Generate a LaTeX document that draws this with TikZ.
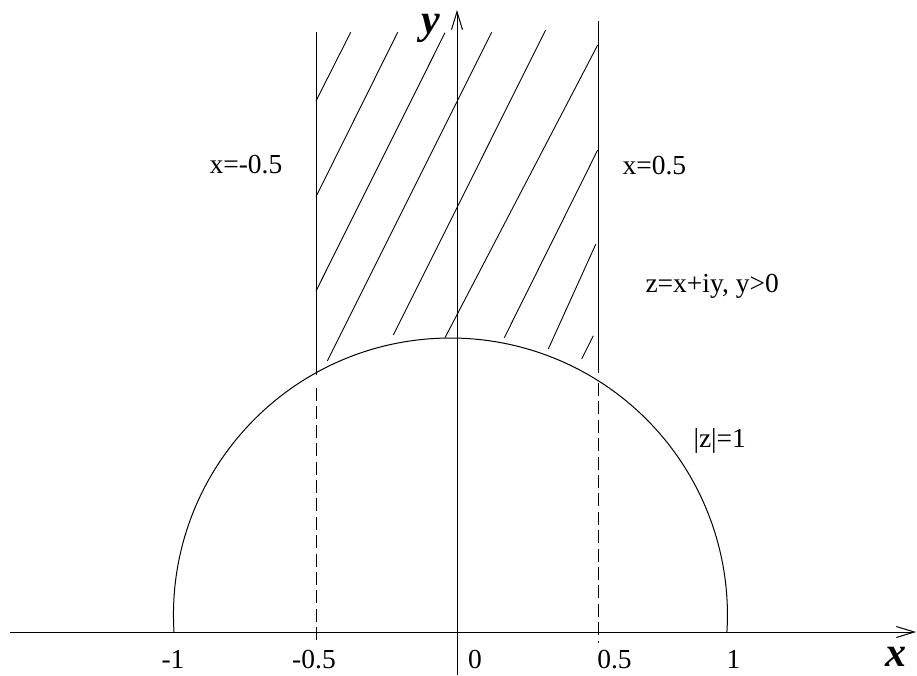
\documentclass[tikz,border=0pt]{standalone}
\usepackage{fontspec}
\setmainfont{Liberation Serif}
\usetikzlibrary{arrows.meta}
\begin{document}
\begin{tikzpicture}[x=1pt,y=-1pt, line width=1pt,
  lab/.style={font=\fontsize{27.5}{30}\selectfont, inner sep=0pt, anchor=base},
  axlab/.style={font=\fontsize{42}{46}\selectfont\bfseries\itshape, inner sep=0pt, anchor=base},
  ax/.style={-{Straight Barb[length=18pt,width=11pt]}},
  hatch/.style={line width=0.9pt},
  dsh/.style={dash pattern=on 13pt off 5.4pt}]
\useasboundingbox (0,0) rectangle (917,675);
% axes
\coordinate (xs) at (10,632);
\coordinate (xe) at (916,632);
\coordinate (ys) at (457,675);
\coordinate (ye) at (457,10);
\draw[ax] (xs) -- (xe);
\draw[ax] (ys) -- (ye);
% vertical lines
\coordinate (la) at (316,32);
\coordinate (lb) at (316,375);
\coordinate (lc) at (316,388);
\coordinate (ld) at (316,643);
\coordinate (ra) at (598,21);
\coordinate (rb) at (598,373);
\coordinate (rc) at (598,383);
\coordinate (rd) at (598,643);
\draw (la) -- (lb);
\draw[dsh] (lc) -- (ld);
\draw (ra) -- (rb);
\draw[dsh] (rc) -- (rd);
% unit circle
\draw (174,632) arc[start angle=176.48, end angle=363.52, radius=277];
% hatching
\draw[hatch] (350.7,32.3) -- (316,101);
\draw[hatch] (397.7,32.3) -- (316,196.7);
\draw[hatch] (445,32.7) -- (316,291);
\draw[hatch] (491.7,32.3) -- (327.3,361);
\draw[hatch] (545.7,30) -- (393.3,335);
\draw[hatch] (597.7,45) -- (445,337.7);
\draw[hatch] (597.7,150) -- (504.3,337.7);
\draw[hatch] (595.7,244.3) -- (548.3,349);
\draw[hatch] (593.3,335.7) -- (581.7,359);
% labels
\node[lab] (m1) at (173,668) {-1};
\node[lab] (mh) at (314,668) {-0.5};
\node[lab] (z0) at (475,668) {0};
\node[lab] (ph) at (614.5,668) {0.5};
\node[lab] (p1) at (733.5,668) {1};
\node[axlab, anchor=base east] (xl) at (907,666) {x};
\node[axlab] (yl) at (431,33) {y};
\node[lab, anchor=base west] (lxl) at (209,173) {x=-0.5};
\node[lab, anchor=base west] (lxr) at (622,174) {x=0.5};
\node[lab, anchor=base west] (zz) at (645,292) {z=x+iy, y>0};
\node[lab, anchor=base west] (zu) at (693,447) {|z|=1};
\end{tikzpicture}
\end{document}
